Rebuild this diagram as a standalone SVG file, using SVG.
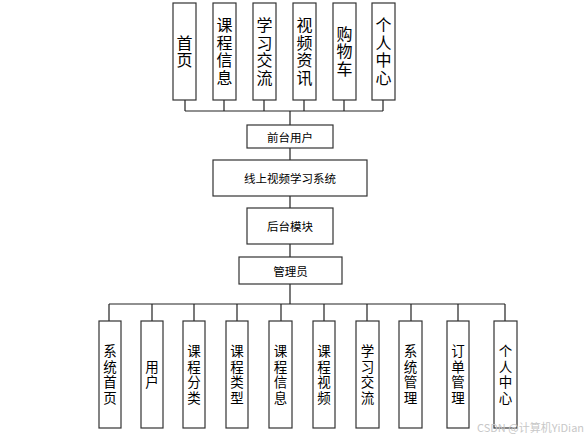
<svg xmlns="http://www.w3.org/2000/svg" width="587" height="436" viewBox="0 0 587 436">
<style>
.box{fill:#fff;stroke:#333;stroke-width:1.2}
.line{fill:none;stroke:#222;stroke-width:1.2}
.tl{font-family:"Noto Sans CJK SC","Noto Sans",sans-serif;font-size:16px;fill:#000;text-anchor:middle;writing-mode:vertical-rl;letter-spacing:1.5px}
.tb{font-family:"Noto Sans CJK SC","Noto Sans",sans-serif;font-size:13.5px;fill:#000;text-anchor:middle;writing-mode:vertical-rl;letter-spacing:2px}
.tm{font-family:"Noto Sans CJK SC","Noto Sans",sans-serif;font-size:11.5px;fill:#000;text-anchor:middle;dominant-baseline:central}
.wm{font-family:"Noto Sans CJK SC","Liberation Sans",sans-serif;font-size:11px;fill:#c8c8c8}
</style>
<rect width="587" height="436" fill="#fff"/>
<g id="connectors">
<path class="line" d="M185 100V111M224 100V111M264 100V111M304 100V111M344 100V111M383 100V111M185 111H383M290 111V125"/>
<path class="line" d="M290 148V160M290 196V208M290 244V257M290 284V304"/>
<path class="line" d="M109 304H505M109 304V321M152 304V321M194 304V321M237 304V321M281 304V321M324 304V321M367 304V321M411 304V321M458 304V321M505 304V321"/>
</g>
<g id="n-shouye"><rect class="box" x="173" y="3" width="23" height="97"/><text class="tl" x="184.5" y="52">首页</text></g>
<g id="n-kcxx"><rect class="box" x="213" y="3" width="23" height="97"/><text class="tl" x="224.5" y="52">课程信息</text></g>
<g id="n-xxjl"><rect class="box" x="253" y="3" width="23" height="97"/><text class="tl" x="264.5" y="52">学习交流</text></g>
<g id="n-spzx"><rect class="box" x="293" y="3" width="23" height="97"/><text class="tl" x="304.5" y="52">视频资讯</text></g>
<g id="n-gwc"><rect class="box" x="333" y="3" width="23" height="97"/><text class="tl" x="344.5" y="52">购物车</text></g>
<g id="n-grzx"><rect class="box" x="372" y="3" width="23" height="97"/><text class="tl" x="383.5" y="52">个人中心</text></g>
<g id="n-qtyh"><rect class="box" x="247" y="125" width="86" height="23"/><text class="tm" x="290" y="136.5">前台用户</text></g>
<g id="n-xt"><rect class="box" x="213" y="160" width="154" height="36"/><text class="tm" x="290" y="178">线上视频学习系统</text></g>
<g id="n-htmk"><rect class="box" x="247" y="208" width="86" height="36"/><text class="tm" x="290" y="226">后台模块</text></g>
<g id="n-gly"><rect class="box" x="239" y="257" width="103" height="27"/><text class="tm" x="290.5" y="270.5">管理员</text></g>
<g id="b1"><rect class="box" x="99" y="321" width="22" height="107"/><text class="tb" x="110" y="375.5">系统首页</text></g>
<g id="b2"><rect class="box" x="141" y="321" width="22" height="107"/><text class="tb" x="152" y="375.5">用户</text></g>
<g id="b3"><rect class="box" x="183" y="321" width="22" height="107"/><text class="tb" x="194" y="375.5">课程分类</text></g>
<g id="b4"><rect class="box" x="226" y="321" width="22" height="107"/><text class="tb" x="237" y="375.5">课程类型</text></g>
<g id="b5"><rect class="box" x="269" y="321" width="23" height="107"/><text class="tb" x="280.5" y="375.5">课程信息</text></g>
<g id="b6"><rect class="box" x="313" y="321" width="22" height="107"/><text class="tb" x="324" y="375.5">课程视频</text></g>
<g id="b7"><rect class="box" x="356" y="321" width="23" height="107"/><text class="tb" x="367.5" y="375.5">学习交流</text></g>
<g id="b8"><rect class="box" x="399" y="321" width="23" height="107"/><text class="tb" x="410.5" y="375.5">系统管理</text></g>
<g id="b9"><rect class="box" x="447" y="321" width="22" height="107"/><text class="tb" x="458" y="375.5">订单管理</text></g>
<g id="b10"><rect class="box" x="494" y="321" width="23" height="107"/><text class="tb" x="505.5" y="375.5">个人中心</text></g>
<text class="wm" x="477" y="432">CSDN @计算机YiDian</text>
</svg>
